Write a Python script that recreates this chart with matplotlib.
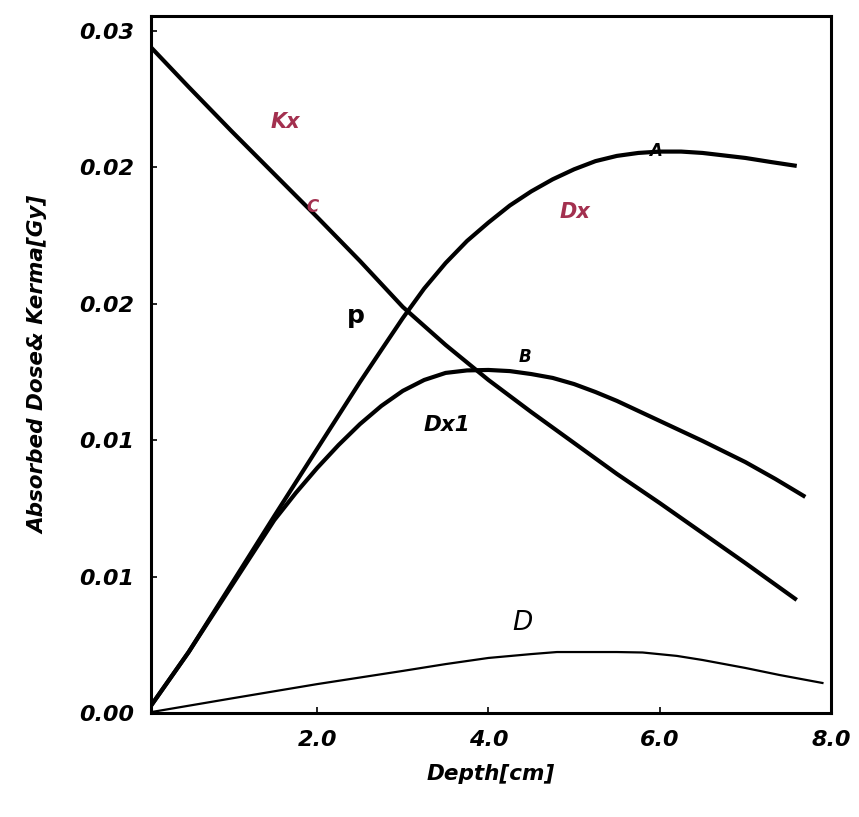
import matplotlib
matplotlib.use("Agg")
import matplotlib.pyplot as plt

# ---- data ----
depth_kx = [0.0, 0.5, 1.0, 1.5, 2.0, 2.5, 3.0, 3.5, 4.0, 4.5, 5.0, 5.5, 6.0, 6.5, 7.0, 7.6]
kerma_kx = [0.0295, 0.02752, 0.02558, 0.02369, 0.0218, 0.01987, 0.01785, 0.01618,
            0.01464, 0.01323, 0.01187, 0.01051, 0.00923, 0.00791, 0.00659, 0.00497]

depth_dx = [0.0, 0.5, 1.0, 1.5, 2.0, 2.5, 2.75, 3.0, 3.25, 3.5, 3.75, 4.0, 4.25, 4.5,
            4.75, 5.0, 5.25, 5.5, 5.75, 6.0, 6.25, 6.5, 6.75, 7.0, 7.3, 7.6]
dose_dx = [0.0, 0.00268, 0.00567, 0.00866, 0.01161, 0.01455, 0.01596, 0.01736, 0.01866,
           0.01978, 0.02075, 0.02156, 0.02231, 0.02293, 0.02346, 0.02390, 0.02426,
           0.02449, 0.02462, 0.02468, 0.02468, 0.02462, 0.02451, 0.0244, 0.02422, 0.02405]

depth_dx1 = [0.0, 0.5, 1.0, 1.5, 1.75, 2.0, 2.25, 2.5, 2.75, 3.0, 3.25, 3.5, 3.75, 4.0,
             4.25, 4.5, 4.75, 5.0, 5.25, 5.5, 5.75, 6.0, 6.5, 7.0, 7.35, 7.7]
dose_dx1 = [0.0, 0.00268, 0.00558, 0.00848, 0.00967, 0.01077, 0.01178, 0.0127, 0.0135,
            0.01416, 0.01464, 0.01495, 0.01506, 0.01508, 0.01503, 0.0149, 0.01473,
            0.01446, 0.01411, 0.01372, 0.01328, 0.01284, 0.01196, 0.01103, 0.01029, 0.0095]

depth_d = [0.0, 1.0, 2.0, 3.0, 3.5, 4.0, 4.5, 4.8, 5.5, 5.8, 6.2, 6.5, 7.0, 7.4, 7.9]
dose_d = [0.0, 0.00064, 0.00127, 0.00185, 0.00215, 0.00242, 0.00259, 0.00268, 0.00268,
          0.00266, 0.00251, 0.00233, 0.00198, 0.00167, 0.00132]

x_ticks = [2.0, 4.0, 6.0, 8.0]
x_tick_labels = ["2.0", "4.0", "6.0", "8.0"]
y_ticks = [0.0, 0.006, 0.012, 0.018, 0.024, 0.030]
y_tick_labels = ["0.00", "0.01", "0.01", "0.02", "0.02", "0.03"]

# ---- figure ----
fig = plt.figure(figsize=(8.59, 8.17), dpi=100)
ax = fig.add_axes([151 / 859, 1 - 713 / 817, (831 - 151) / 859, (713 - 16) / 817])

ink = "black"
thick = dict(color=ink, lw=3.0, solid_capstyle="butt", solid_joinstyle="round")
ax.plot(depth_kx, kerma_kx, **thick)
ax.plot(depth_dx, dose_dx, **thick)
ax.plot(depth_dx1, dose_dx1, **thick)
ax.plot(depth_d, dose_d, color=ink, lw=1.6, solid_joinstyle="round")

ax.set_xlim(0.06, 8.0)
ax.set_ylim(0.0, 0.03064)

ax.set_xticks(x_ticks)
ax.set_xticklabels(x_tick_labels)
ax.set_yticks(y_ticks)
ax.set_yticklabels(y_tick_labels)

for lab in ax.get_xticklabels() + ax.get_yticklabels():
    lab.set_fontsize(16)
    lab.set_fontweight("bold")
    lab.set_fontstyle("italic")

ax.tick_params(axis="both", direction="in", length=4, width=1.2, pad=12)
for s in ax.spines.values():
    s.set_linewidth(2.2)

lab_font = dict(fontsize=15.5, fontweight="bold", fontstyle="italic")
ax.set_xlabel("Depth[cm]", labelpad=10, **lab_font)
ax.set_ylabel("Absorbed Dose& Kerma[Gy]", labelpad=22, **lab_font)

red = "#a3304f"
ax.text(1.63, 0.02598, "Kx", color=red, fontsize=15, fontweight="bold", fontstyle="italic",
        ha="center", va="center")
ax.text(1.945, 0.02224, "C", color=red, fontsize=12, fontweight="bold", fontstyle="italic",
        ha="center", va="center")
ax.text(5.015, 0.02202, "Dx", color=red, fontsize=15, fontweight="bold", fontstyle="italic",
        ha="center", va="center")
ax.text(2.447, 0.01745, "p", color=ink, fontsize=18, fontweight="bold",
        ha="center", va="center")
ax.text(4.432, 0.01565, "B", color=ink, fontsize=12, fontweight="bold", fontstyle="italic",
        ha="center", va="center")
ax.text(3.52, 0.01266, "Dx1", color=ink, fontsize=15.5, fontweight="bold", fontstyle="italic",
        ha="center", va="center")
ax.text(4.397, 0.00396, "D", color=ink, fontsize=19, fontstyle="italic",
        ha="center", va="center")
ax.text(5.95, 0.02472, "A", color=ink, fontsize=12, fontweight="bold", fontstyle="italic",
        ha="center", va="center")

fig.savefig("out.png", dpi=100)
